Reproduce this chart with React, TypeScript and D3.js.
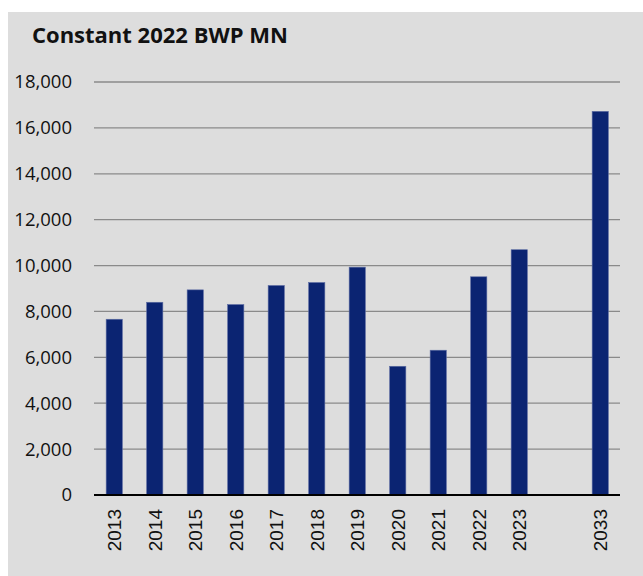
import React from "react";
import * as d3 from "d3";

const years = ["2013", "2014", "2015", "2016", "2017", "2018", "2019", "2020", "2021", "2022", "2023", "2033"];
const values = [7660, 8400, 8940, 8300, 9130, 9260, 9930, 5610, 6310, 9510, 10690, 16720];
// empty slot between 2023 and 2033
const slots = ["2013", "2014", "2015", "2016", "2017", "2018", "2019", "2020", "2021", "2022", "2023", "gap", "2033"];
const yTicks = [0, 2000, 4000, 6000, 8000, 10000, 12000, 14000, 16000, 18000];
const title = "Constant 2022 BWP MN";

const W = 643;
const H = 576;

const App = () => {
  const x = d3.scaleBand().domain(slots).range([94, 620.5]).paddingInner(0.6).paddingOuter(0.3);
  const y = d3.scaleLinear().domain([0, 18000]).range([495, 82]);
  const fmt = d3.format(",");

  return (
    <svg width={W} height={H} style={{ position: "absolute", left: 0, top: 0 }}>
      <rect x={8} y={12} width={W - 8} height={H - 12} fill="#dddddd" />
      <text x={32} y={43} fontFamily="'Open Sans'" fontWeight="bold" fontSize="22" fill="#111">
        {title}
      </text>
      {yTicks.map(t => (
        <g key={t}>
          {t > 0 && <line x1={94} x2={620} y1={y(t)} y2={y(t)} stroke="#8a8a8a" strokeWidth="1.3" />}
          <text
            x={72}
            y={y(t)}
            dy="0.35em"
            textAnchor="end"
            fontFamily="'Open Sans'"
            fontSize="18.5"
            fill="#111"
          >
            {fmt(t)}
          </text>
        </g>
      ))}
      {years.map((yr, i) => (
        <rect
          key={yr}
          x={x(yr)}
          y={y(values[i])}
          width={x.bandwidth()}
          height={y(0) - y(values[i])}
          fill="#0b2472"
          stroke="#5b6ba3"
          strokeWidth="0.6"
        />
      ))}
      <line x1={94} x2={620} y1={y(0)} y2={y(0)} stroke="#000" strokeWidth="2.2" />
      {years.map(yr => (
        <text
          key={yr}
          transform={`translate(${x(yr) + x.bandwidth() / 2},509) rotate(-90)`}
          textAnchor="end"
          dy="0.36em"
          fontFamily="'Liberation Sans'"
          fontSize="19"
          fill="#111"
        >
          {yr}
        </text>
      ))}
    </svg>
  );
};

export default App;
